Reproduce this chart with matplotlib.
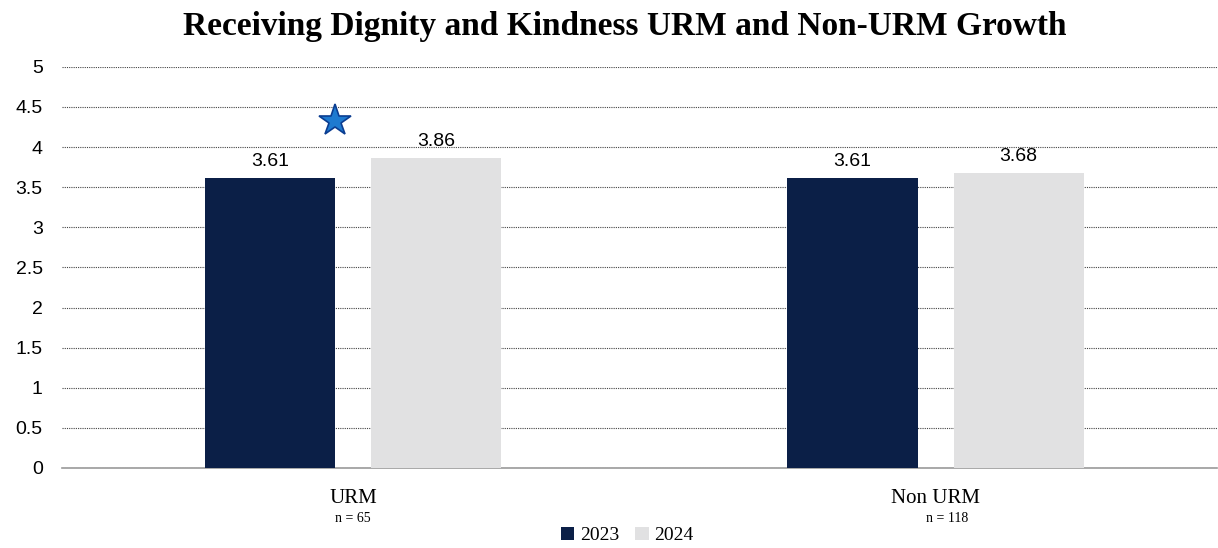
import matplotlib.pyplot as plt
import numpy as np

categories = ['URM', 'Non URM']
sample_sizes = ['n = 65', 'n = 118']
years = ['2023', '2024']
scores_2023 = [3.61, 3.61]
scores_2024 = [3.86, 3.68]
colors = ['#0b1f47', '#e1e1e2']
star_value = 4.32  # significance marker above URM

fig = plt.figure(figsize=(12.18, 5.48), dpi=100)
ax = fig.add_axes([0.051, 0.146, 0.948, 0.732])

x = np.arange(len(categories))
width = 0.2234
offset = 0.1426
series = [scores_2023, scores_2024]
for i, (vals, year) in enumerate(zip(series, years)):
    pos = x + (offset if i else -offset)
    bars = ax.bar(pos, vals, width, color=colors[i], label=year, zorder=3)
    for b, v in zip(bars, vals):
        ax.text(b.get_x() + b.get_width() / 2, v + 0.1, f'{v:.2f}',
                ha='center', va='bottom', fontsize=14, family='Liberation Sans')

# star above the URM pair
ax.plot(x[0] - 0.032, star_value, marker='*', markersize=24,
        markerfacecolor='#1e7ad0', markeredgecolor='#0b3d91',
        markeredgewidth=1.2, zorder=4)

ax.set_xlim(-0.5, 1.483)
ax.set_ylim(0, 5)
ax.set_yticks(np.arange(0, 5.01, 0.5))
ax.set_yticklabels(['0', '0.5', '1', '1.5', '2', '2.5', '3', '3.5', '4', '4.5', '5'],
                   fontsize=14, family='Liberation Sans')
ax.tick_params(axis='y', length=0, pad=14)
ax.yaxis.grid(True, linestyle=(0, (1, 1)), color='#444444', linewidth=0.8, zorder=0)
for s in ['top', 'right', 'left']:
    ax.spines[s].set_visible(False)
ax.spines['bottom'].set_color('#9a9a9a')
ax.spines['bottom'].set_linewidth(1.2)

ax.set_xticks(x)
ax.set_xticklabels([''] * len(categories))
ax.tick_params(axis='x', length=0)
for xi, cat, n in zip(x, categories, sample_sizes):
    ax.annotate(cat, (xi, 0), xytext=(0, -15), textcoords='offset points',
                ha='center', va='top', fontsize=15, family='Liberation Serif')
    ax.annotate(n, (xi + (0.02 if xi else 0), 0), xytext=(0, -32),
                textcoords='offset points', ha='center', va='top',
                fontsize=10, family='Liberation Serif')

fig.suptitle('Receiving Dignity and Kindness URM and Non-URM Growth',
             x=0.513, y=0.98, fontsize=24, fontweight='bold', family='Liberation Serif')

fig.legend(loc='lower center', ncol=2, frameon=False, bbox_to_anchor=(0.515, -0.025),
           prop={'family': 'Liberation Serif', 'size': 14}, handlelength=0.7,
           handleheight=0.7, handletextpad=0.3, columnspacing=0.8)

fig.savefig('out.png', dpi=100)
